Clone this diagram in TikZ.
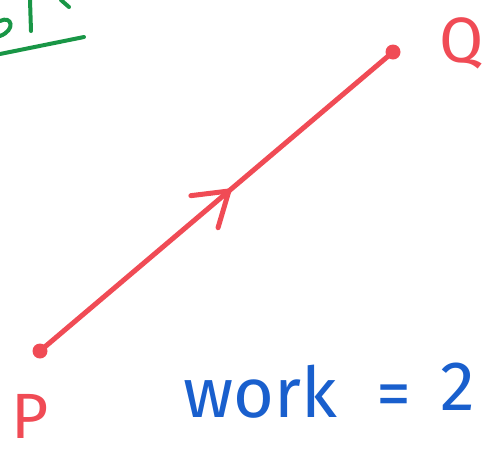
\documentclass[tikz,border=0pt]{standalone}
\usepackage{fontspec}
\setmainfont{Fira Sans}
\usetikzlibrary{arrows.meta,decorations.markings}
\definecolor{penred}{RGB}{240,75,85}
\definecolor{penblue}{RGB}{25,95,205}
\definecolor{pengreen}{RGB}{25,150,70}
\tikzset{
  redpen/.style={draw=penred,line width=5pt,line cap=round},
  greenpen/.style={draw=pengreen,line width=4pt,line cap=round},
  enddot/.style={circle,fill=penred,inner sep=0pt,minimum size=15pt},
  redlabel/.style={text=penred,font=\fontsize{64}{64}\selectfont,inner sep=0pt},
  bluelabel/.style={text=penblue,font=\fontsize{70}{70}\selectfont,inner sep=0pt},
  midarrow/.style={postaction={decorate},decoration={markings,
    mark=at position 0.545 with {\arrow[penred,line width=5pt]{Straight Barb[length=32pt,width=42pt,line cap=round]}}}}
}
\begin{document}
\begin{tikzpicture}[x=1pt,y=-1pt]
\useasboundingbox (0,0) rectangle (496,456);
% green fragment at top-left
\draw[greenpen] (0,54) -- (84,37);
\draw[greenpen] (30,0) -- (31,31);
\draw[greenpen] (61,0) -- (69,7);
\draw[greenpen] (0,21) .. controls (12,15) and (16,30) .. (0,36);
% points
\node[enddot] (P) at (40,351) {};
\node[enddot] (Q) at (393,52) {};
\draw[redpen,midarrow] (P.center) -- (Q.center);
% labels
\node[redlabel,anchor=base] (Plabel) at (30,438) {P};
\node[redlabel,anchor=base] (Qlabel) at (462,62) {Q};
\node[bluelabel,anchor=base west] (work) at (183,417) {work};
\node[bluelabel,anchor=base] (eq) at (394,417) {=};
\node[bluelabel,anchor=base] (two) at (458,410) {2};
\end{tikzpicture}
\end{document}
